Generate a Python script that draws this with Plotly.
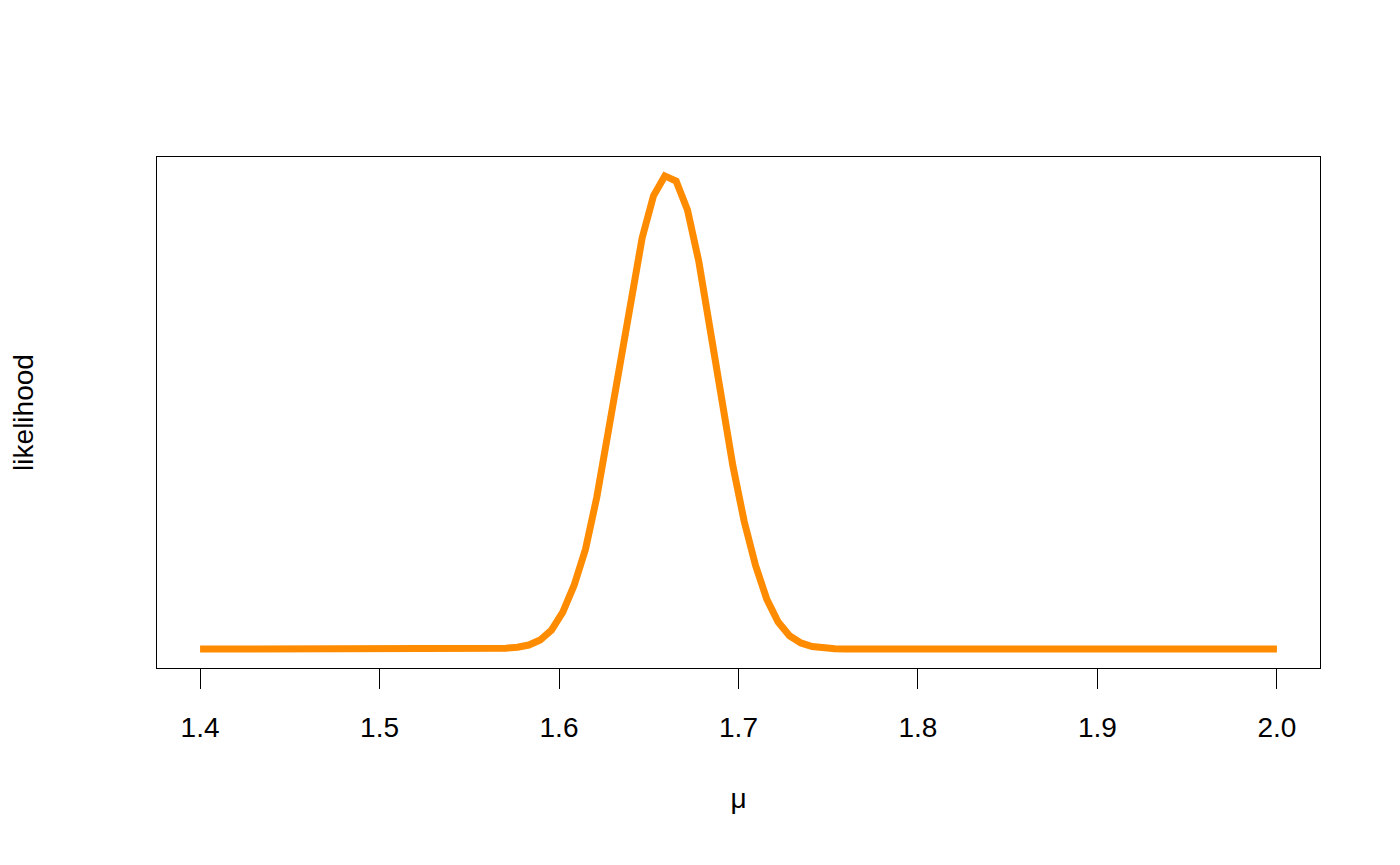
import numpy as np
import plotly.graph_objects as go

# grid of mu values (96 evenly spaced points from 1.4 to 2.0)
mu_start, mu_end, n_mu = 1.4, 2.0, 96
mu = np.linspace(mu_start, mu_end, n_mu)

# relative likelihood (index 0..95)
likelihood = [0.0] * 24 + [
    0.0002, 0.0005, 0.0010, 0.0020, 0.0040, 0.0085, 0.019, 0.040, 0.078, 0.135, 0.211,
    0.321, 0.458, 0.599, 0.741, 0.869, 0.958, 1.000, 0.989, 0.928, 0.819,
    0.675, 0.527, 0.388, 0.270, 0.177, 0.105, 0.057, 0.028, 0.013, 0.0055,
    0.0022, 0.0008, 0.0003, 0.0001,
] + [0.0] * 37

x_ticks = [1.4, 1.5, 1.6, 1.7, 1.8, 1.9, 2.0]
x_tick_labels = ["1.4", "1.5", "1.6", "1.7", "1.8", "1.9", "2.0"]

FONT = "Liberation Sans, Arial, Helvetica, sans-serif"

fig = go.Figure()
fig.add_trace(go.Scatter(
    x=mu, y=likelihood, mode="lines",
    line=dict(color="#FF8C00", width=7),
    hoverinfo="skip", showlegend=False,
))

xpad = 0.04 * (mu_end - mu_start)
ymax = max(likelihood)
ypad = 0.04 * ymax

fig.update_layout(
    width=1400, height=865,
    margin=dict(l=149, r=88, t=149, b=205),
    paper_bgcolor="white", plot_bgcolor="white",
    font=dict(family=FONT, size=28, color="black"),
    xaxis=dict(
        range=[mu_start - xpad, mu_end + xpad],
        tickvals=x_ticks, ticktext=x_tick_labels,
        ticks="outside", ticklen=20, tickwidth=1.4, tickcolor="black",
        ticklabelstandoff=14,
        showline=True, linecolor="black", linewidth=1.4, mirror=True,
        showgrid=False, zeroline=False,
        tickfont=dict(family=FONT, size=28, color="black"),
        title=dict(text="μ", font=dict(family=FONT, size=28, color="black"), standoff=46),
    ),
    yaxis=dict(
        range=[0 - ypad, ymax + ypad],
        showticklabels=False, ticks="",
        showline=True, linecolor="black", linewidth=1.4, mirror=True,
        showgrid=False, zeroline=False,
        title=dict(text="likelihood", font=dict(family=FONT, size=28, color="black"), standoff=115),
    ),
)

fig.write_html("out.html")
